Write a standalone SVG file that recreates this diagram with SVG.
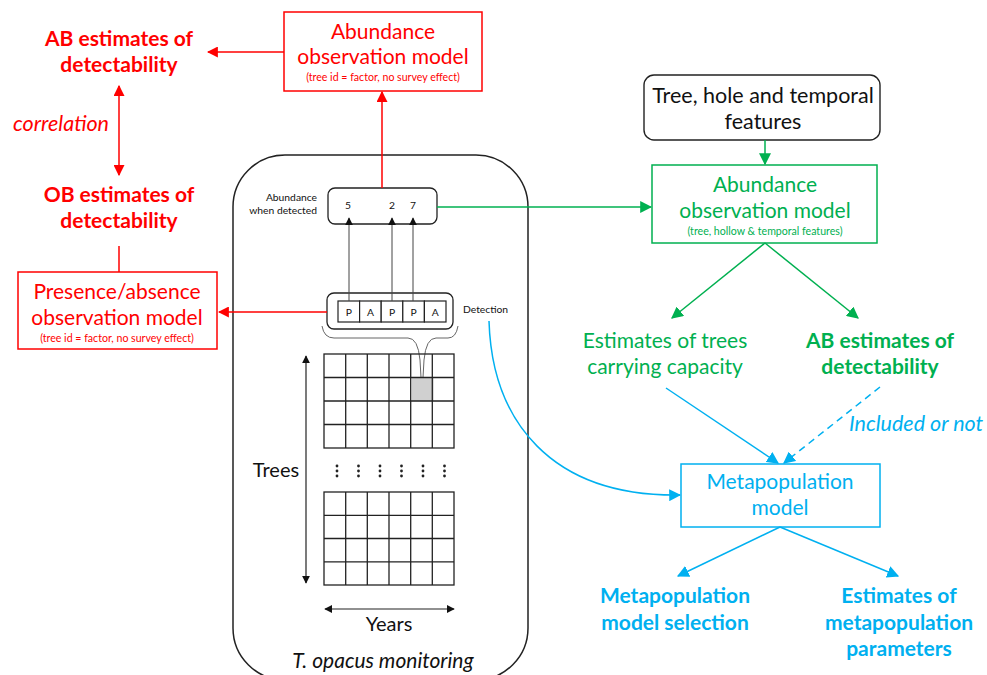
<svg xmlns="http://www.w3.org/2000/svg" width="987" height="675" viewBox="0 0 987 675">
  <style>
    text { font-family: Lato, "Open Sans", "Liberation Sans", sans-serif; }
    .red { fill: #ff0000; }
    .grn { fill: #00b050; }
    .blu { fill: #00b0f0; }
    .blk { fill: #111111; }
    .big { font-size: 21px; }
    .bold { font-weight: bold; }
    .it { font-style: italic; }
    .small { font-size: 10.6px; }
    .tiny { font-size: 10.3px; }
    .mid { text-anchor: middle; }
    .end { text-anchor: end; }
    .grid line, .grid rect { stroke: #222; stroke-width: 1.3; fill: none; }
  </style>
  <defs>
    <marker id="ahRed" viewBox="0 0 10 10" refX="9" refY="5" markerWidth="11" markerHeight="11" markerUnits="userSpaceOnUse" orient="auto-start-reverse">
      <path d="M0,0 L10,5 L0,10 Z" fill="#ff0000"/>
    </marker>
    <marker id="ahGrn" viewBox="0 0 10 10" refX="9" refY="5" markerWidth="12" markerHeight="12" markerUnits="userSpaceOnUse" orient="auto">
      <path d="M0,0 L10,5 L0,10 Z" fill="#00b050"/>
    </marker>
    <marker id="ahBlu" viewBox="0 0 10 10" refX="9" refY="5" markerWidth="12" markerHeight="12" markerUnits="userSpaceOnUse" orient="auto">
      <path d="M0,0 L10,5 L0,10 Z" fill="#00b0f0"/>
    </marker>
    <marker id="ahBlk" viewBox="0 0 10 10" refX="9" refY="5" markerWidth="8" markerHeight="8" markerUnits="userSpaceOnUse" orient="auto-start-reverse">
      <path d="M0,0 L10,5 L0,10 Z" fill="#111"/>
    </marker>
  </defs>

  <!-- monitoring panel -->
  <g id="monitoring">
    <rect x="233" y="155" width="295" height="525" rx="52" ry="52" fill="none" stroke="#222" stroke-width="1.5"/>
    <text x="383" y="668" class="blk it mid" font-size="21">T. opacus monitoring</text>
  </g>

  <!-- abundance when detected -->
  <g id="abundance-detected">
    <rect x="328" y="188" width="109" height="36" rx="7" fill="#fff" stroke="#222" stroke-width="1.3"/>
    <text x="317" y="201" class="blk tiny end">Abundance</text>
    <text x="317" y="214" class="blk tiny end">when detected</text>
    <text x="348" y="209" class="blk tiny mid">5</text>
    <text x="392" y="209" class="blk tiny mid">2</text>
    <text x="413" y="209" class="blk tiny mid">7</text>
  </g>

  <!-- detection record -->
  <g id="detection">
    <rect x="327" y="293" width="126" height="36" rx="7" fill="#fff" stroke="#222" stroke-width="1.3"/>
    <g fill="#fff" stroke="#222" stroke-width="1.2">
      <rect x="338" y="301" width="21.6" height="21"/>
      <rect x="359.6" y="301" width="21.6" height="21"/>
      <rect x="381.2" y="301" width="21.6" height="21"/>
      <rect x="402.8" y="301" width="21.6" height="21"/>
      <rect x="424.4" y="301" width="21.6" height="21"/>
    </g>
    <g class="blk tiny mid">
      <text x="348.8" y="315.5">P</text>
      <text x="370.4" y="315.5">A</text>
      <text x="392" y="315.5">P</text>
      <text x="413.6" y="315.5">P</text>
      <text x="435.2" y="315.5">A</text>
    </g>
    <text x="463" y="313" class="blk tiny">Detection</text>
    <!-- callout brace pointing at one survey cell -->
    <path d="M322,326 Q324,338 334,338 L408,338 Q418,338 420,360 L422,395 L424,360 Q426,338 436,338 L448,338 Q456,338 458,326" fill="none" stroke="#666" stroke-width="1"/>
  </g>

  <!-- survey grids -->
  <g id="grids" class="grid">
    <rect x="412" y="377.5" width="21.7" height="23.5" stroke="none" style="fill:#d0d0d0;stroke:none"/>
    <rect x="324" y="354" width="130" height="94"/>
    <line x1="345.7" y1="354" x2="345.7" y2="448"/>
    <line x1="367.3" y1="354" x2="367.3" y2="448"/>
    <line x1="389" y1="354" x2="389" y2="448"/>
    <line x1="410.7" y1="354" x2="410.7" y2="448"/>
    <line x1="432.3" y1="354" x2="432.3" y2="448"/>
    <line x1="324" y1="377.5" x2="454" y2="377.5"/>
    <line x1="324" y1="401" x2="454" y2="401"/>
    <line x1="324" y1="424.5" x2="454" y2="424.5"/>

    <rect x="324" y="492" width="130" height="93"/>
    <line x1="345.7" y1="492" x2="345.7" y2="585"/>
    <line x1="367.3" y1="492" x2="367.3" y2="585"/>
    <line x1="389" y1="492" x2="389" y2="585"/>
    <line x1="410.7" y1="492" x2="410.7" y2="585"/>
    <line x1="432.3" y1="492" x2="432.3" y2="585"/>
    <line x1="324" y1="515.3" x2="454" y2="515.3"/>
    <line x1="324" y1="538.5" x2="454" y2="538.5"/>
    <line x1="324" y1="561.8" x2="454" y2="561.8"/>

    <g style="fill:#222;stroke:none">
      <circle cx="337" cy="466" r="1.4"/><circle cx="337" cy="471" r="1.4"/><circle cx="337" cy="476" r="1.4"/>
      <circle cx="358.5" cy="466" r="1.4"/><circle cx="358.5" cy="471" r="1.4"/><circle cx="358.5" cy="476" r="1.4"/>
      <circle cx="380" cy="466" r="1.4"/><circle cx="380" cy="471" r="1.4"/><circle cx="380" cy="476" r="1.4"/>
      <circle cx="401.5" cy="466" r="1.4"/><circle cx="401.5" cy="471" r="1.4"/><circle cx="401.5" cy="476" r="1.4"/>
      <circle cx="423" cy="466" r="1.4"/><circle cx="423" cy="471" r="1.4"/><circle cx="423" cy="476" r="1.4"/>
      <circle cx="444.5" cy="466" r="1.4"/><circle cx="444.5" cy="471" r="1.4"/><circle cx="444.5" cy="476" r="1.4"/>
    </g>
  </g>

  <!-- axes -->
  <g id="axes">
    <line x1="306" y1="356" x2="306" y2="583" stroke="#222" stroke-width="1.2" marker-start="url(#ahBlk)" marker-end="url(#ahBlk)"/>
    <text x="276" y="477" class="blk mid" font-size="20">Trees</text>
    <line x1="325" y1="609" x2="454" y2="609" stroke="#222" stroke-width="1.2" marker-start="url(#ahBlk)" marker-end="url(#ahBlk)"/>
    <text x="389" y="631" class="blk mid" font-size="20">Years</text>
  </g>

  <!-- red: observation models -->
  <g id="ab-obs-red">
    <rect x="284" y="12" width="198" height="79" fill="#fff" stroke="#ff0000" stroke-width="1.5"/>
    <text x="383" y="39" class="red mid" font-size="21">Abundance</text>
    <text x="383" y="64" class="red mid" font-size="21">observation model</text>
    <text x="383" y="81" class="red small mid">(tree id = factor, no survey effect)</text>
  </g>
  <g id="pa-obs-red">
    <rect x="18" y="272" width="199" height="77" fill="#fff" stroke="#ff0000" stroke-width="1.5"/>
    <text x="117" y="299" class="red mid" font-size="21">Presence/absence</text>
    <text x="117" y="325" class="red mid" font-size="21">observation model</text>
    <text x="117" y="342" class="red small mid">(tree id = factor, no survey effect)</text>
  </g>
  <g id="ab-detect-red">
    <text x="119" y="46" class="red bold mid" font-size="21">AB estimates of</text>
    <text x="119" y="72" class="red bold mid" font-size="21">detectability</text>
  </g>
  <g id="ob-detect-red">
    <text x="119" y="202" class="red bold mid" font-size="21">OB estimates of</text>
    <text x="119" y="228" class="red bold mid" font-size="21">detectability</text>
  </g>
  <text x="61" y="131" class="red it mid" font-size="21.5">correlation</text>

  <!-- green: covariate model -->
  <g id="features">
    <rect x="644" y="75" width="236" height="65" rx="10" fill="#fff" stroke="#222" stroke-width="1.4"/>
    <text x="763" y="103" class="blk mid" font-size="21.5">Tree, hole and temporal</text>
    <text x="763" y="129" class="blk mid" font-size="21.5">features</text>
  </g>
  <g id="ab-obs-green">
    <rect x="652" y="165" width="225" height="78" fill="#fff" stroke="#00b050" stroke-width="1.5"/>
    <text x="765" y="192" class="grn mid big">Abundance</text>
    <text x="765" y="218" class="grn mid big">observation model</text>
    <text x="765" y="235" class="grn small mid">(tree, hollow &amp; temporal features)</text>
  </g>
  <g id="capacity">
    <text x="665" y="348" class="grn mid big">Estimates of trees</text>
    <text x="665" y="374" class="grn mid big">carrying capacity</text>
  </g>
  <g id="ab-detect-green">
    <text x="880" y="348" class="grn bold mid big">AB estimates of</text>
    <text x="880" y="374" class="grn bold mid big">detectability</text>
  </g>

  <!-- blue: metapopulation -->
  <g id="metapop">
    <rect x="681" y="464" width="199" height="63" fill="#fff" stroke="#00b0f0" stroke-width="1.5"/>
    <text x="780" y="489" class="blu mid big">Metapopulation</text>
    <text x="780" y="515" class="blu mid big">model</text>
  </g>
  <g id="selection">
    <text x="675" y="603" class="blu bold mid big">Metapopulation</text>
    <text x="675" y="630" class="blu bold mid big">model selection</text>
  </g>
  <g id="parameters">
    <text x="899" y="603" class="blu bold mid big">Estimates of</text>
    <text x="899" y="630" class="blu bold mid big">metapopulation</text>
    <text x="899" y="656" class="blu bold mid big">parameters</text>
  </g>
  <text x="849" y="431" class="blu it" font-size="21.5">Included or not</text>

  <!-- connectors -->
  <g id="connectors" fill="none" stroke-width="1.5">
    <!-- detections feed abundance values -->
    <g stroke="#444" stroke-width="1">
      <line x1="349" y1="301" x2="349" y2="218" marker-end="url(#ahBlk)"/>
      <line x1="392" y1="301" x2="392" y2="218" marker-end="url(#ahBlk)"/>
      <line x1="413" y1="301" x2="413" y2="218" marker-end="url(#ahBlk)"/>
    </g>
    <g stroke="#ff0000">
      <line x1="382" y1="188" x2="382" y2="92" marker-end="url(#ahRed)"/>
      <line x1="284" y1="52" x2="208" y2="52" marker-end="url(#ahRed)"/>
      <line x1="327" y1="312" x2="219" y2="312" marker-end="url(#ahRed)"/>
      <line x1="119" y1="86" x2="119" y2="175" marker-start="url(#ahRed)" marker-end="url(#ahRed)"/>
      <line x1="119" y1="272" x2="119" y2="246"/>
    </g>
    <g stroke="#00b050">
      <line x1="437" y1="207" x2="651" y2="207" marker-end="url(#ahGrn)"/>
      <line x1="765" y1="140" x2="765" y2="164" marker-end="url(#ahGrn)"/>
      <line x1="765" y1="243" x2="672" y2="318" marker-end="url(#ahGrn)"/>
      <line x1="765" y1="243" x2="858" y2="318" marker-end="url(#ahGrn)"/>
    </g>
    <g stroke="#00b0f0">
      <path d="M489,321 C492,420 550,497 680,495" marker-end="url(#ahBlu)"/>
      <line x1="666" y1="388" x2="778" y2="463" marker-end="url(#ahBlu)"/>
      <line x1="880" y1="387" x2="784" y2="463" stroke-dasharray="7,5" marker-end="url(#ahBlu)"/>
      <line x1="780" y1="527" x2="678" y2="576" marker-end="url(#ahBlu)"/>
      <line x1="780" y1="527" x2="898" y2="576" marker-end="url(#ahBlu)"/>
    </g>
  </g>
</svg>
